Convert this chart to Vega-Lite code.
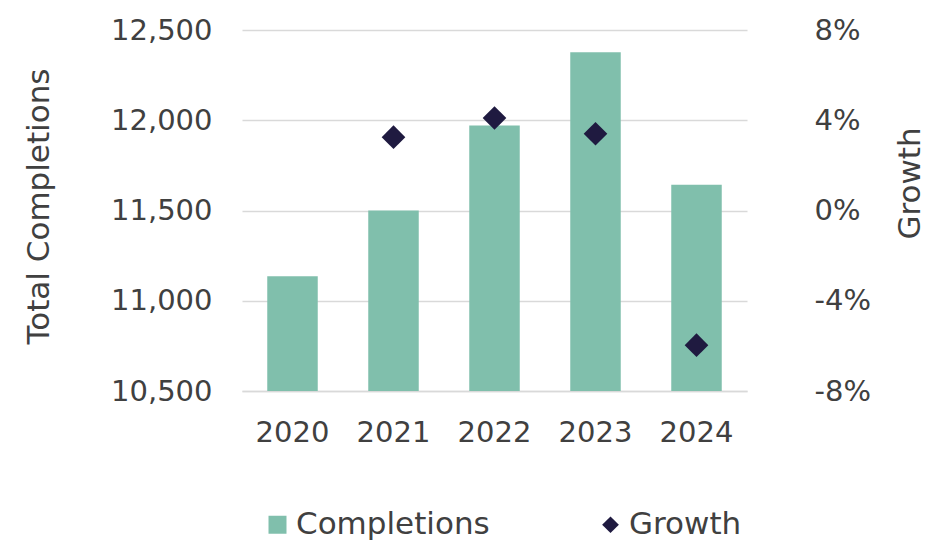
{
  "$schema": "https://vega.github.io/schema/vega-lite/v6.json",
  "width": 505,
  "height": 361,
  "autosize": "none",
  "padding": {"left": 242, "top": 30, "right": 182, "bottom": 150},
  "background": "white",
  "config": {
    "font": "DejaVu Sans",
    "view": {"stroke": null},
    "axis": {
      "labelFont": "DejaVu Sans",
      "labelFontSize": 29,
      "labelColor": "#404040",
      "titleFont": "DejaVu Sans",
      "titleFontSize": 31,
      "titleFontWeight": "normal",
      "titleColor": "#404040",
      "ticks": false,
      "domain": false
    },
    "legend": {
      "labelFont": "DejaVu Sans",
      "labelFontSize": 31,
      "labelColor": "#404040",
      "labelLimit": 400
    }
  },
  "data": {
    "values": [
      {"Year": "2020", "Completions": 11136, "Growth": null},
      {"Year": "2021", "Completions": 11500, "Growth": 3.25},
      {"Year": "2022", "Completions": 11971, "Growth": 4.1},
      {"Year": "2023", "Completions": 12377, "Growth": 3.4},
      {"Year": "2024", "Completions": 11642, "Growth": -5.97}
    ]
  },
  "encoding": {
    "x": {
      "field": "Year",
      "type": "nominal",
      "scale": {"paddingInner": 0.5, "paddingOuter": 0.25},
      "axis": {
        "title": null,
        "labelAngle": 0,
        "labelPadding": 27,
        "domain": true,
        "domainColor": "#d9d9d9",
        "domainWidth": 1.5
      }
    }
  },
  "layer": [
    {
      "mark": {"type": "bar", "clip": true},
      "encoding": {
        "y": {
          "field": "Completions",
          "type": "quantitative",
          "scale": {"domain": [10500, 12500], "zero": false, "nice": false},
          "axis": {
            "title": "Total Completions",
            "values": [10500, 11000, 11500, 12000, 12500],
            "format": ",.0f",
            "labelPadding": 30,
            "grid": true,
            "gridColor": "#d9d9d9",
            "gridWidth": 1.5,
            "titleX": -203,
            "titleY": 176,
            "titleAngle": -90,
            "titleBaseline": "middle",
            "titleAlign": "center"
          }
        },
        "y2": {"datum": 10500},
        "color": {
          "datum": "Completions",
          "type": "nominal",
          "scale": {"domain": ["Completions", "Growth"], "range": ["#80BFAC", "#1F1A40"]},
          "legend": {
            "title": null,
            "orient": "none",
            "direction": "horizontal",
            "legendX": 20,
            "legendY": 479,
            "symbolSize": 324,
            "columnPadding": 105,
            "labelOffset": 3,
            "labelLimit": 400,
            "encode": {
              "symbols": {
                "update": {
                  "shape": {"signal": "datum.value === 'Growth' ? 'diamond' : 'square'"},
                  "fill": {"scale": "color", "field": "value"},
                  "stroke": {"value": "transparent"},
                  "size": {"signal": "datum.value === 'Growth' ? 280 : 324"}
                }
              }
            }
          }
        }
      }
    },
    {
      "mark": {"type": "point", "shape": "diamond", "filled": true, "size": 560, "opacity": 1},
      "encoding": {
        "y": {
          "field": "Growth",
          "type": "quantitative",
          "scale": {"domain": [-8, 8], "zero": false, "nice": false},
          "axis": {
            "orient": "right",
            "title": "Growth",
            "values": [-8, -4, 0, 4, 8],
            "labelExpr": "datum.value + '%'",
            "labelPadding": 67,
            "labelAlign": "left",
            "grid": false,
            "titleX": 163,
            "titleY": 153,
            "titleAngle": 270,
            "titleBaseline": "middle",
            "titleAlign": "center"
          }
        },
        "color": {"datum": "Growth", "type": "nominal"}
      }
    }
  ],
  "resolve": {"scale": {"y": "independent"}}
}
